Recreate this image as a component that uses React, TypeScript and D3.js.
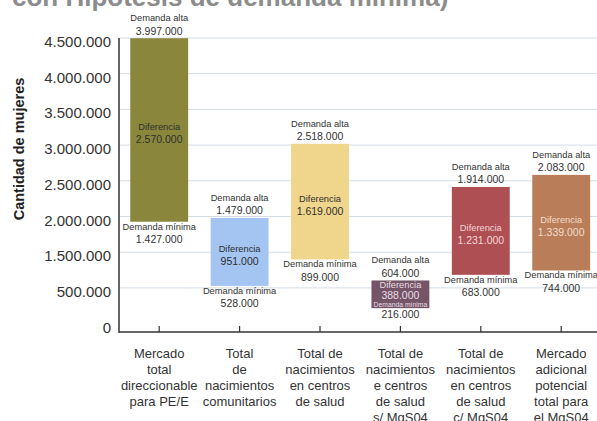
import React from "react";
import * as d3 from "d3";

// Categories (multi-line labels under each bar)
const categories: string[][] = [
  ["Mercado", "total", "direccionable", "para PE/E"],
  ["Total", "de", "nacimientos", "comunitarios"],
  ["Total de", "nacimientos", "en centros", "de salud"],
  ["Total de", "nacimientos", "e centros", "de salud", "s/ MgS04"],
  ["Total de", "nacimientos", "en centros", "de salud", "c/ MgS04"],
  ["Mercado", "adicional", "potencial", "total para", "el MgS04"],
];

// Series values
const demandaAlta = [3997000, 1479000, 2518000, 604000, 1914000, 2083000];
const demandaMinima = [1427000, 528000, 899000, 216000, 683000, 744000];
const diferencia = [2570000, 951000, 1619000, 388000, 1231000, 1339000];

// Axis ticks
const yTickValues = [0, 500000, 1000000, 1500000, 2000000, 2500000, 3000000, 3500000, 4000000];
const yTickLabels = [
  "0",
  "500.000",
  "1.500.000",
  "2.000.000",
  "2.500.000",
  "3.000.000",
  "3.500.000",
  "4.000.000",
  "4.500.000",
];

const barColors = ["#8a873c", "#a4c5f2", "#f0d68c", "#745466", "#ad4f53", "#b97d59"];
const innerTextColors = ["#2e2e2e", "#2e2e2e", "#2e2e2e", "#eadde5", "#f3d6d6", "#f4dccb"];

const W = 597;
const H = 421;
const FONT = "'Liberation Sans', Arial, Helvetica, sans-serif";
const TEXT = "#333";

const esLocale = d3.formatLocale({
  decimal: ",",
  thousands: ".",
  grouping: [3],
  currency: ["", ""],
});
const fmt = esLocale.format(",");

const plotLeft = 119;
const plotRight = W;
const axisY = 332;

const y = d3.scaleLinear().domain([0, 4000000]).range([323.6, 38]);
const x = d3
  .scaleBand<number>()
  .domain(d3.range(categories.length))
  .range([plotLeft, plotLeft + 6 * 80.4])
  .paddingInner(0.28)
  .paddingOuter(0.14);

export default function App() {
  return (
    <div style={{ position: "absolute", left: 0, top: 0 }}>
      <svg width={W} height={H} viewBox={`0 0 ${W} ${H}`} style={{ display: "block", fontFamily: FONT }}>
        <rect width={W} height={H} fill="#ffffff" />

        {/* title, partly clipped at the top */}
        <text x={12} y={6} fontSize={26} fontWeight="bold" fill="#8c8c8c">
          con Hipótesis de demanda mínima)
        </text>

        {/* gridlines */}
        {yTickValues
          .filter((v) => v > 0)
          .map((v) => (
            <line key={v} x1={plotLeft} x2={plotRight} y1={y(v)} y2={y(v)} stroke="#d3dde6" strokeWidth={1} />
          ))}

        {/* y tick labels */}
        {yTickValues.map((v, i) => (
          <text
            key={v}
            x={111}
            y={y(v) + 3.5}
            textAnchor="end"
            dominantBaseline="central"
            fontSize={15}
            fill={TEXT}
          >
            {yTickLabels[i]}
          </text>
        ))}

        {/* y axis title */}
        <text
          transform="translate(19,149) rotate(-90)"
          textAnchor="middle"
          dominantBaseline="central"
          fontSize={14.5}
          fontWeight="bold"
          fill="#222"
        >
          Cantidad de mujeres
        </text>

        {/* bars */}
        {categories.map((_, i) => {
          const x0 = x(i)!;
          const bw = x.bandwidth();
          const cx = x0 + bw / 2;
          const top = y(demandaAlta[i]);
          const bottom = y(demandaMinima[i]);
          const mid = (top + bottom) / 2;
          const compact = bottom - top < 45;
          const inner = innerTextColors[i];
          return (
            <g key={i}>
              <rect x={x0} y={top} width={bw} height={bottom - top} fill={barColors[i]} />
              <g textAnchor="middle" dominantBaseline="central">
                <text x={cx} y={top - 20} fontSize={9.3} fill={TEXT}>
                  Demanda alta
                </text>
                <text x={cx} y={top - 7.5} fontSize={10.5} fill={TEXT}>
                  {fmt(demandaAlta[i])}
                </text>
                {compact ? (
                  <>
                    <text x={cx} y={top + 5} fontSize={9.3} fill={inner}>
                      Diferencia
                    </text>
                    <text x={cx} y={top + 15} fontSize={10.5} fill={inner}>
                      {fmt(diferencia[i])}
                    </text>
                    <text x={cx} y={bottom - 3.6} fontSize={6.8} fill={inner}>
                      Demanda mínima
                    </text>
                    <text x={cx} y={bottom + 6} fontSize={10.5} fill={TEXT}>
                      {fmt(demandaMinima[i])}
                    </text>
                  </>
                ) : (
                  <>
                    <text x={cx} y={mid - 3} fontSize={9.3} fill={inner}>
                      Diferencia
                    </text>
                    <text x={cx} y={mid + 9} fontSize={10.5} fill={inner}>
                      {fmt(diferencia[i])}
                    </text>
                    <text x={cx} y={bottom + 5} fontSize={9.3} fill={TEXT}>
                      Demanda mínima
                    </text>
                    <text x={cx} y={bottom + 17.5} fontSize={10.5} fill={TEXT}>
                      {fmt(demandaMinima[i])}
                    </text>
                  </>
                )}
              </g>
            </g>
          );
        })}

        {/* axes */}
        <line x1={plotLeft} x2={plotLeft} y1={38} y2={axisY + 0.75} stroke="#333" strokeWidth={1.5} />
        <line x1={plotLeft} x2={plotRight} y1={axisY} y2={axisY} stroke="#333" strokeWidth={1.5} />
        {categories.map((_, i) => {
          const cx = x(i)! + x.bandwidth() / 2;
          return <line key={i} x1={cx} x2={cx} y1={axisY - 6} y2={axisY} stroke="#333" strokeWidth={1.2} />;
        })}

        {/* category labels */}
        {categories.map((lines, i) => {
          const cx = x(i)! + x.bandwidth() / 2;
          return (
            <text key={i} textAnchor="middle" fontSize={13} fill={TEXT}>
              {lines.map((ln, j) => (
                <tspan key={j} x={cx} y={353.3 + j * 16} dominantBaseline="central">
                  {ln}
                </tspan>
              ))}
            </text>
          );
        })}
      </svg>
    </div>
  );
}
